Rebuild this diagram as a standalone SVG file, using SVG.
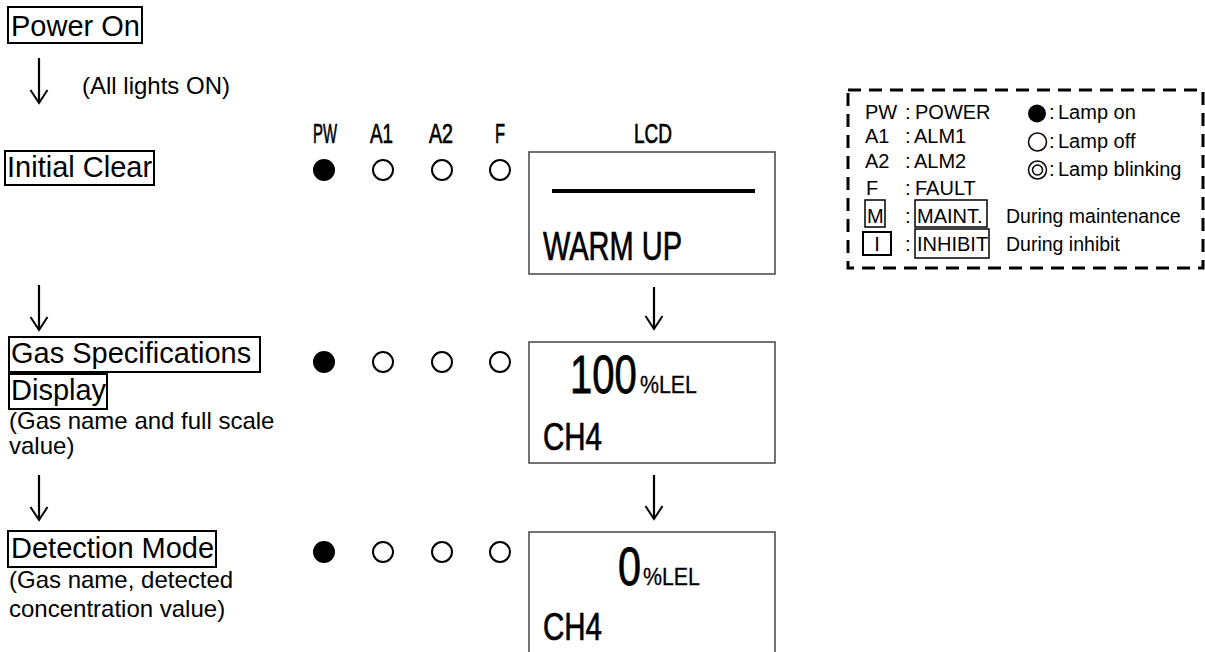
<svg xmlns="http://www.w3.org/2000/svg" width="1205" height="652" viewBox="0 0 1205 652">
<defs>
<style>
.main{font-family:"Liberation Sans",Arial,sans-serif;font-size:29px;fill:#000}
.sub{font-family:"Liberation Sans",Arial,sans-serif;font-size:24px;fill:#000}
.lg{font-family:"Liberation Sans",Arial,sans-serif;font-size:20px;fill:#000}
.lgs{font-family:"Liberation Sans",Arial,sans-serif;font-size:19.5px;fill:#000}
.cond{font-family:"Liberation Sans",Arial,sans-serif;fill:#000;stroke:#000;stroke-width:0.7}
.num{font-family:"Liberation Sans",Arial,sans-serif;font-size:53px;fill:#000;stroke:#000;stroke-width:0.8}
.unit{font-family:"Liberation Sans",Arial,sans-serif;font-size:24px;fill:#000;stroke:#000;stroke-width:0.3}
.box{fill:none;stroke:#000;stroke-width:2}
.lcd{fill:#fff;stroke:#444;stroke-width:1.5}
.on{fill:#000}
.off{fill:none;stroke:#000;stroke-width:2}
.arr{fill:none;stroke:#000;stroke-width:2.2;marker-end:url(#ah)}
</style>
<marker id="ah" viewBox="0 0 20 16" refX="10" refY="14" markerWidth="20" markerHeight="16" markerUnits="userSpaceOnUse" orient="0">
<path d="M1.5,1 L10,14 L18.5,1" fill="none" stroke="#000" stroke-width="2"/>
</marker>
</defs>
<rect width="1205" height="652" fill="#fff"/>

<g id="connectors">
<line class="arr" x1="39" y1="58" x2="39" y2="103"/>
<line class="arr" x1="39" y1="285" x2="39" y2="330"/>
<line class="arr" x1="39" y1="475" x2="39" y2="520"/>
<line class="arr" x1="654" y1="287" x2="654" y2="329"/>
<line class="arr" x1="654" y1="475" x2="654" y2="519"/>
</g>

<g id="power-on">
<rect class="box" x="8" y="7" width="134" height="36"/>
<text class="main" x="11" y="36">Power On</text>
<text class="sub" x="82" y="94">(All lights ON)</text>
</g>

<g id="initial-clear">
<rect class="box" x="5" y="151" width="149" height="34"/>
<text class="main" x="7" y="177">Initial Clear</text>
</g>

<g id="gas-spec">
<rect class="box" x="9" y="337" width="251" height="35"/>
<text class="main" x="11" y="363">Gas Specifications</text>
<rect class="box" x="9" y="374" width="98" height="35"/>
<text class="main" x="11" y="400">Display</text>
<text class="sub" x="9" y="429">(Gas name and full scale</text>
<text class="sub" x="9" y="454">value)</text>
</g>

<g id="detection-mode">
<rect class="box" x="8" y="531" width="208" height="36"/>
<text class="main" x="11" y="558">Detection Mode</text>
<text class="sub" x="9" y="588">(Gas name, detected</text>
<text class="sub" x="9" y="617">concentration value)</text>
</g>

<g id="led-labels">
<text class="cond" font-size="27" x="313" y="143" textLength="24" lengthAdjust="spacingAndGlyphs">PW</text>
<text class="cond" font-size="27" x="370" y="143" textLength="23" lengthAdjust="spacingAndGlyphs">A1</text>
<text class="cond" font-size="27" x="429" y="143" textLength="24" lengthAdjust="spacingAndGlyphs">A2</text>
<text class="cond" font-size="27" x="495" y="143" textLength="10" lengthAdjust="spacingAndGlyphs">F</text>
<text class="cond" font-size="27" x="634" y="143" textLength="38" lengthAdjust="spacingAndGlyphs">LCD</text>
</g>

<g id="leds-row1">
<circle class="on" cx="324" cy="170" r="11"/>
<circle class="off" cx="383" cy="170" r="10"/>
<circle class="off" cx="442" cy="170" r="10"/>
<circle class="off" cx="500" cy="170" r="10"/>
</g>
<g id="lcd1">
<rect class="lcd" x="529" y="152" width="246" height="122"/>
<line x1="552" y1="191" x2="755" y2="191" stroke="#000" stroke-width="4"/>
<text class="cond" font-size="40" x="543" y="260" textLength="139" lengthAdjust="spacingAndGlyphs">WARM UP</text>
</g>

<g id="leds-row2">
<circle class="on" cx="324" cy="362" r="11"/>
<circle class="off" cx="383" cy="362" r="10"/>
<circle class="off" cx="442" cy="362" r="10"/>
<circle class="off" cx="500" cy="362" r="10"/>
</g>
<g id="lcd2">
<rect class="lcd" x="529" y="342" width="246" height="121"/>
<text class="num" transform="translate(570,393) scale(0.755,1)">100</text>
<text class="unit" transform="translate(640,393) scale(0.89,1)">%LEL</text>
<text class="cond" font-size="39" x="543" y="450" textLength="59" lengthAdjust="spacingAndGlyphs">CH4</text>
</g>

<g id="leds-row3">
<circle class="on" cx="324" cy="552" r="11"/>
<circle class="off" cx="383" cy="552" r="10"/>
<circle class="off" cx="442" cy="552" r="10"/>
<circle class="off" cx="500" cy="552" r="10"/>
</g>
<g id="lcd3">
<rect class="lcd" x="529" y="532" width="246" height="130"/>
<text class="num" transform="translate(618,585) scale(0.78,1)">0</text>
<text class="unit" transform="translate(643,585) scale(0.89,1)">%LEL</text>
<text class="cond" font-size="39" x="543" y="640" textLength="59" lengthAdjust="spacingAndGlyphs">CH4</text>
</g>

<g id="legend">
<rect x="848" y="90" width="355" height="178" fill="none" stroke="#000" stroke-width="3" stroke-dasharray="13 8"/>
<text class="lg" x="865" y="119">PW</text>
<text class="lg" x="865" y="143">A1</text>
<text class="lg" x="865" y="168">A2</text>
<text class="lg" x="866" y="195">F</text>
<rect x="865" y="200" width="20" height="27" fill="none" stroke="#000" stroke-width="1.5"/>
<text class="lg" x="867" y="223">M</text>
<rect x="863" y="232" width="28" height="23" fill="none" stroke="#000" stroke-width="2"/>
<text class="lg" x="877" y="251" text-anchor="middle">I</text>
<text class="lg" x="905" y="119">:</text>
<text class="lg" x="905" y="143">:</text>
<text class="lg" x="905" y="168">:</text>
<text class="lg" x="905" y="195">:</text>
<text class="lg" x="905" y="223">:</text>
<text class="lg" x="905" y="251">:</text>
<text class="lg" x="915" y="119">POWER</text>
<text class="lg" x="914" y="143">ALM1</text>
<text class="lg" x="914" y="168">ALM2</text>
<text class="lg" x="915" y="195">FAULT</text>
<rect x="915" y="200" width="72" height="27" fill="none" stroke="#000" stroke-width="1.5"/>
<text class="lg" x="917" y="223">MAINT.</text>
<rect x="915" y="229" width="74" height="29" fill="none" stroke="#000" stroke-width="1.5"/>
<text class="lg" x="917" y="251">INHIBIT</text>
<text class="lgs" x="1006" y="223">During maintenance</text>
<text class="lgs" x="1006" y="251">During inhibit</text>
<circle cx="1037" cy="113.5" r="9" fill="#000"/>
<circle cx="1037.5" cy="142" r="9" fill="none" stroke="#000" stroke-width="1.5"/>
<circle cx="1037.5" cy="170" r="9" fill="none" stroke="#000" stroke-width="1.5"/>
<circle cx="1037.5" cy="170" r="5" fill="none" stroke="#000" stroke-width="1.5"/>
<text class="lg" x="1049" y="119">:</text>
<text class="lg" x="1049" y="148">:</text>
<text class="lg" x="1049" y="176">:</text>
<text class="lg" x="1058" y="119">Lamp on</text>
<text class="lg" x="1058" y="148">Lamp off</text>
<text class="lg" x="1058" y="176">Lamp blinking</text>
</g>
</svg>
